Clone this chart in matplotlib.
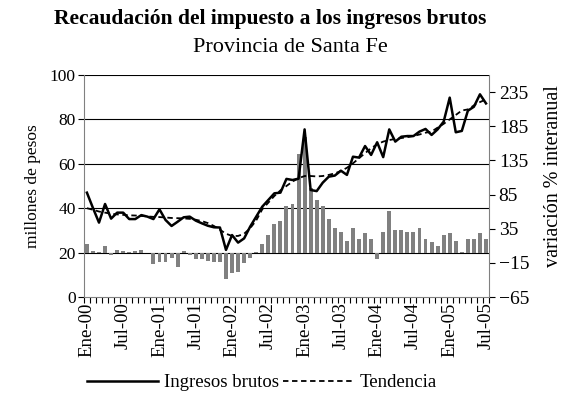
import matplotlib
matplotlib.use("Agg")
import matplotlib.pyplot as plt
from matplotlib.ticker import FixedLocator

plt.rcParams['font.family'] = ['Liberation Serif', 'DejaVu Serif']

# serie mensual ene-2000 a jul-2005, millones de pesos
ingresos = [47.0, 40.1, 33.5, 41.9, 35.3, 38.0, 38.0, 35.1, 35.1, 36.9, 36.2, 35.1,
            39.5, 34.7, 32.0, 33.9, 35.9, 36.2, 34.4, 33.2, 32.1, 31.4, 31.3, 21.2,
            27.9, 24.5, 26.4, 31.7, 36.2, 40.7, 43.7, 46.7, 47.0, 53.2, 52.7, 53.3,
            75.5, 48.2, 47.7, 51.5, 54.2, 54.7, 56.9, 55.0, 63.2, 62.8, 68.0, 64.0,
            69.7, 63.0, 75.5, 70.0, 72.2, 72.5, 72.5, 74.5, 75.7, 73.0, 75.5, 79.0,
            89.8, 74.2, 74.8, 83.9, 85.7, 91.3, 87.2]

tendencia = [40.0, 39.3, 38.5, 38.0, 37.5, 37.2, 37.0, 36.8, 36.7, 36.5, 36.3, 36.1,
             36.0, 35.8, 35.6, 35.5, 35.4, 35.2, 34.8, 34.2, 33.3, 32.0, 30.3, 28.5,
             27.5, 27.5, 28.5, 31.0, 34.5, 39.5, 42.5, 45.5, 48.0, 50.0, 52.0, 53.5,
             54.5, 54.5, 54.3, 54.5, 55.0, 55.7, 56.7, 58.2, 60.2, 62.5, 64.8, 67.0,
             68.8, 70.0, 70.7, 71.2, 71.6, 72.0, 72.5, 73.2, 74.0, 74.5, 76.3, 78.0,
             80.0, 82.0, 84.0, 84.5, 86.3, 87.8, 89.0]

# variacion % interanual
variacion = [12.6, 2, 0.5, 9.7, -4, 4, 2, 0.5, 2, 4, -0.5, -17,
             -14, -14, -7.5, -20.6, 2, -3.5, -10, -10, -13, -14, -14, -39,
             -30, -28, -14.7, -7.5, 1.5, 12.8, 25.8, 41.8, 46.5, 68, 71, 145,
             169.5, 94, 77, 68, 49, 36, 30.5, 17.5, 36, 20, 28.7, 20,
             -9.6, 30.5, 61, 33, 33, 30, 30, 36.5, 20.5, 16, 10, 25.7,
             28.7, 17, 0.5, 20, 20, 28.7, 20]

etiquetas = ['Ene-00', 'Jul-00', 'Ene-01', 'Jul-01', 'Ene-02', 'Jul-02',
             'Ene-03', 'Jul-03', 'Ene-04', 'Jul-04', 'Ene-05', 'Jul-05']

x = list(range(len(ingresos)))

fig = plt.figure(figsize=(5.63, 4.0), dpi=100)
ax = fig.add_axes([0.149, 0.2575, 0.7196, 0.555])

# eje izquierdo: grilla y escala en millones
ax.set_xlim(-0.5, len(x) - 0.5)
ax.set_ylim(0, 100)
ax.set_yticks([0, 20, 40, 60, 80, 100])
for v in [20, 40, 60, 80, 100]:
    ax.axhline(v, color='black', lw=0.8, zorder=0)
ax.tick_params(axis='y', direction='out', length=4, width=0.8, labelsize=12.5, pad=2)
for s in ['top', 'right']:
    ax.spines[s].set_visible(False)
ax.spines['left'].set_color('#808080')
ax.spines['bottom'].set_color('#808080')

ax.set_xticks(list(range(0, len(x), 6)))
ax.set_xticklabels(etiquetas, rotation=90, fontsize=13.5)
ax.xaxis.set_minor_locator(FixedLocator([i - 0.5 for i in range(len(x) + 1)]))
ax.tick_params(axis='x', which='major', length=0, pad=4)
ax.tick_params(axis='x', which='minor', direction='out', length=4, width=0.8)

# eje derecho: barras de variacion
axb = ax.twinx()
axb.set_ylim(-65, 260)
axb.set_yticks([-65, -15, 35, 85, 135, 185, 235])
axb.bar(x, variacion, width=0.65, color='#808080', bottom=0)
axb.tick_params(axis='y', direction='out', length=4, width=0.8, labelsize=14, pad=3)
for s in ['top', 'left', 'bottom']:
    axb.spines[s].set_visible(False)
axb.spines['right'].set_color('#808080')

# lineas por encima de las barras
axl = ax.twinx()
axl.set_ylim(0, 100)
axl.axis('off')
l1, = axl.plot(x, ingresos, color='black', lw=1.8, label='Ingresos brutos')
l2, = axl.plot(x, tendencia, color='black', lw=1.3, ls=(0, (3, 2)), label='Tendencia')

fig.text(0.059, 0.535, 'millones de pesos', rotation=90, ha='center', va='center',
         fontsize=12.5)
fig.text(0.984, 0.56, 'variación % interanual', rotation=90, ha='center', va='center',
         fontsize=14.5)

fig.text(0.48, 0.952, 'Recaudación del impuesto a los ingresos brutos',
         ha='center', va='center', fontsize=15.5, fontweight='bold')
fig.text(0.515, 0.88, 'Provincia de Santa Fe', ha='center', va='center', fontsize=16)

fig.legend(handles=[l1, l2], loc='center', bbox_to_anchor=(0.465, 0.043), ncol=2,
           frameon=False, fontsize=13.5, handlelength=3.8, columnspacing=0.2,
           handletextpad=0.3, borderaxespad=0)

fig.savefig('out.png', dpi=100)
